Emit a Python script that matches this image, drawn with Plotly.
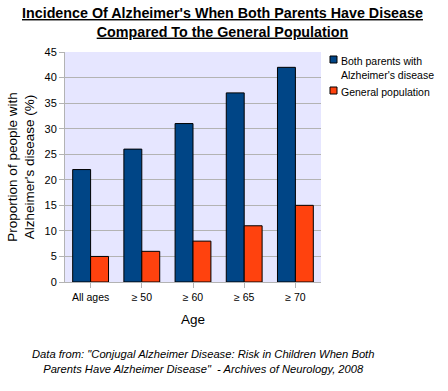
import plotly.graph_objects as go

categories = ["All ages", "≥ 50", "≥ 60", "≥ 65", "≥ 70"]
both_parents = [22, 26, 31, 37, 42]
general_pop = [5, 6, 8, 11, 15]
y_ticks = [0, 5, 10, 15, 20, 25, 30, 35, 40, 45]
series_names = ["Both parents with<br>Alzheimer's disease", "General population"]
series_colors = ["#004586", "#FF420E"]

FONT = "Liberation Sans, Arial, sans-serif"
W, H = 448, 391
# target plot area on screen: x 65..321, y 52..282
L, T = 65, 52
PW, PH = 256, 230
R, B = W - L - PW, H - T - PH


def px(x):
    return (x - L) / PW


def py(y):
    return (T + PH - y) / PH


fig = go.Figure()
for name, vals, col in zip(series_names, [both_parents, general_pop], series_colors):
    fig.add_trace(go.Bar(
        x=categories, y=vals, name=name,
        marker=dict(color=col, line=dict(color="#000000", width=1)),
    ))

shapes = []
annotations = []
# manual legend
legend_rows = [(56, 63), (87, 94)]
for (name, col), (s0, s1) in zip(zip(series_names, series_colors), legend_rows):
    shapes.append(dict(type="rect", xref="paper", yref="paper",
                       x0=px(330), x1=px(337), y0=py(s1), y1=py(s0),
                       fillcolor=col, line=dict(color="#000", width=1)))
    annotations.append(dict(text=name, xref="paper", yref="paper",
                            x=px(339), y=py(s0 - 3), xanchor="left", yanchor="top",
                            align="left", showarrow=False,
                            font=dict(size=10.5, color="#000")))

annotations.append(dict(
    text="<b><u>Incidence Of Alzheimer's When Both Parents Have Disease</u></b><br>"
         "<b><u>Compared To the General Population</u></b>",
    xref="paper", yref="paper", x=px(222), y=py(3), xanchor="center", yanchor="top",
    showarrow=False, font=dict(size=14.3, color="#000")))
annotations.append(dict(
    text="<i>Data from: \"Conjugal Alzheimer Disease: Risk in Children When Both</i><br>"
         "<i>Parents Have Alzheimer Disease\"  - Archives of Neurology, 2008</i>",
    xref="paper", yref="paper", x=px(203), y=py(346), xanchor="center", yanchor="top",
    showarrow=False, font=dict(size=11.2, color="#000")))

fig.update_layout(
    width=W, height=H,
    margin=dict(l=L, r=R, t=T, b=B, autoexpand=False),
    paper_bgcolor="white",
    plot_bgcolor="#E6E6FF",
    barmode="group", bargap=0.30, bargroupgap=0,
    font=dict(family=FONT, size=11, color="#000000"),
    showlegend=False,
    xaxis=dict(
        showgrid=False, ticks="outside", ticklen=5, tickcolor="#b3b3b3",
        showline=True, linecolor="#b3b3b3", automargin=False,
        tickfont=dict(size=10.5, color="#000"),
        title=dict(text="Age", font=dict(size=13.5, color="#000"), standoff=12),
    ),
    yaxis=dict(
        range=[0, 45], tickvals=y_ticks, showgrid=True, gridcolor="#b3b3b3",
        ticks="outside", ticklen=5, tickcolor="#b3b3b3",
        showline=True, linecolor="#b3b3b3", zeroline=False, automargin=False,
        tickfont=dict(size=11, color="#000"),
        title=dict(text="Proportion of people with<br>Alzheimer's disease (%)",
                   font=dict(size=13.5, color="#000"), standoff=6),
    ),
    shapes=shapes,
    annotations=annotations,
)

fig.write_html("out.html",
               config={"displayModeBar": False},
               post_script="document.body.style.margin='0';document.body.style.padding='0';")
